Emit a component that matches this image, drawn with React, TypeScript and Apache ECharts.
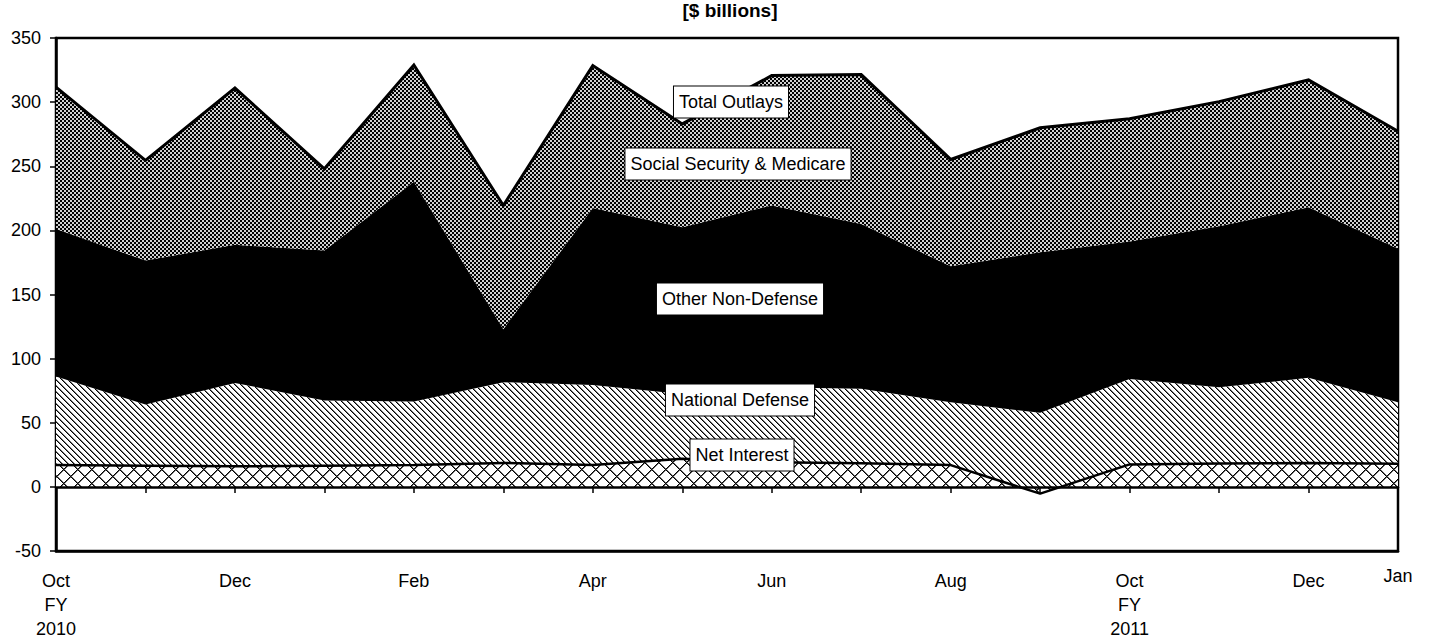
import React, { useEffect, useRef } from "react";
import * as echarts from "echarts";

// Months from Oct FY2010 to Jan FY2011
const categories = ["Oct", "Nov", "Dec", "Jan", "Feb", "Mar", "Apr", "May", "Jun", "Jul", "Aug", "Sep", "Oct", "Nov", "Dec", "Jan"];
const xTickLabels = ["Oct\nFY\n2010", "", "Dec", "", "Feb", "", "Apr", "", "Jun", "", "Aug", "", "Oct\nFY\n2011", "", "Dec", "Jan"];

// $ billions (component values, stacked)
const netInterest = [17, 16.5, 16, 16.5, 17, 18.7, 17, 22, 19.2, 18.5, 17, -5.3, 17.5, 18.2, 18.7, 18];
const nationalDefense = [69, 47.7, 65, 50.9, 49.6, 62.9, 62.5, 50.5, 58.5, 58.1, 49, 63, 66.7, 59.5, 66.3, 48];
const otherNonDefense = [115, 112.3, 107.7, 116.9, 171.4, 41.4, 138, 130, 141.7, 128.4, 106, 125.3, 107.1, 125.5, 133, 119.6];
const socialSecurityMedicare = [110.7, 78.1, 122.3, 63.7, 91, 96.4, 111, 80.5, 101.3, 116.5, 83.3, 97, 95.7, 97.2, 99.3, 91.7];

const yTicks = { min: -50, max: 350, interval: 50 };

const FONT = '"Liberation Sans", Arial, sans-serif';

function makePattern(w: number, h: number, bg: string, fn: (x: number, y: number) => string | null) {
  const c = document.createElement("canvas");
  c.width = w;
  c.height = h;
  const ctx = c.getContext("2d")!;
  ctx.fillStyle = bg;
  ctx.fillRect(0, 0, w, h);
  for (let y = 0; y < h; y++) {
    for (let x = 0; x < w; x++) {
      const col = fn(x, y);
      if (col) {
        ctx.fillStyle = col;
        ctx.fillRect(x, y, 1, 1);
      }
    }
  }
  return { image: c.toDataURL(), repeat: "repeat", imageWidth: w, imageHeight: h } as any;
}

export default function App() {
  const ref = useRef<HTMLDivElement>(null);

  useEffect(() => {
    if (!ref.current) return;
    const chart = echarts.init(ref.current, undefined, { renderer: "svg", width: 1437, height: 642 });

    const crossPattern = makePattern(14, 14, "#ffffff", (x, y) => {
      const d1 = (x + y) % 14;
      const d2 = (((x - y) % 14) + 14) % 14;
      if (d1 === 0 || d2 === 0) return "#000000";
      if (d1 === 1 || d2 === 1) return "#666666";
      return null;
    });
    const diagPattern = makePattern(6, 6, "#ffffff", (x, y) => {
      const d = (((x - y) % 6) + 6) % 6;
      if (d === 0) return "#000000";
      if (d === 1) return "#777777";
      return null;
    });
    const checkerPattern = makePattern(4, 4, "#d0d0d0", (x, y) => {
      return ((x >> 1) + (y >> 1)) % 2 === 0 ? "#000000" : null;
    });

    const boxStyle = (text: string) => ({
      text,
      fill: "#000",
      font: `18px ${FONT}`,
      backgroundColor: "#fff",
      borderColor: "#000",
      borderWidth: 1,
      padding: [7, 5, 6, 5],
      align: "center",
      verticalAlign: "middle",
    });

    const labels = [
      { text: "Total Outlays", x: 731, y: 102 },
      { text: "Social Security & Medicare", x: 738, y: 164 },
      { text: "Other Non-Defense", x: 740, y: 299 },
      { text: "National Defense", x: 740, y: 400 },
      { text: "Net Interest", x: 742, y: 455 },
    ];

    const option: any = {
      animation: false,
      backgroundColor: "#fff",
      grid: {
        left: 56,
        top: 38,
        width: 1342,
        height: 513,
        show: true,
        borderColor: "#000",
        borderWidth: 2.5,
        backgroundColor: "transparent",
        containLabel: false,
      },
      xAxis: [
        {
          type: "category",
          data: xTickLabels.map((v, i) =>
            i === xTickLabels.length - 1 ? { value: v, textStyle: { lineHeight: 14 } } : v
          ),
          boundaryGap: false,
          position: "bottom",
          axisLine: { onZero: false, lineStyle: { color: "#000", width: 2.5 } },
          axisTick: { show: false },
          axisLabel: {
            interval: 0,
            color: "#000",
            fontFamily: FONT,
            fontSize: 18,
            lineHeight: 24,
            margin: 18,
          },
          splitLine: { show: false },
        },
        {
          type: "category",
          data: categories,
          boundaryGap: false,
          position: "bottom",
          axisLine: { onZero: true, onZeroAxisIndex: 0, lineStyle: { color: "#000", width: 2.5 } },
          axisTick: { show: true, inside: false, length: 6, interval: 0, lineStyle: { color: "#000", width: 1.5 } },
          axisLabel: { show: false },
          splitLine: { show: false },
          z: 10,
        },
      ],
      yAxis: {
        type: "value",
        min: yTicks.min,
        max: yTicks.max,
        interval: yTicks.interval,
        axisLine: { show: true, lineStyle: { color: "#000", width: 2.5 } },
        axisTick: { show: true, inside: false, length: 6, lineStyle: { color: "#000", width: 1.5 } },
        axisLabel: { color: "#000", fontFamily: FONT, fontSize: 18, margin: 15 },
        splitLine: { show: false },
      },
      series: [
        {
          name: "Net Interest",
          type: "line",
          stack: "outlays",
          stackStrategy: "all",
          data: netInterest,
          symbol: "none",
          z: 5,
          lineStyle: { color: "#000", width: 2.5 },
          areaStyle: { color: crossPattern, opacity: 1 },
        },
        {
          name: "National Defense",
          type: "line",
          stack: "outlays",
          stackStrategy: "all",
          data: nationalDefense,
          symbol: "none",
          z: 2,
          lineStyle: { opacity: 0, width: 0 },
          areaStyle: { color: diagPattern, opacity: 1 },
        },
        {
          name: "Other Non-Defense",
          type: "line",
          stack: "outlays",
          stackStrategy: "all",
          data: otherNonDefense,
          symbol: "none",
          z: 2,
          lineStyle: { opacity: 0, width: 0 },
          areaStyle: { color: "#000", opacity: 1 },
        },
        {
          name: "Social Security & Medicare",
          type: "line",
          stack: "outlays",
          stackStrategy: "all",
          data: socialSecurityMedicare,
          symbol: "none",
          z: 5,
          lineStyle: { color: "#000", width: 3, join: "miter" },
          areaStyle: { color: checkerPattern, opacity: 1 },
        },
      ],
      graphic: [
        {
          type: "text",
          x: 730,
          y: 1,
          z: 100,
          style: {
            text: "[$ billions]",
            fill: "#000",
            font: `bold 19px ${FONT}`,
            align: "center",
            verticalAlign: "top",
          },
        },
        ...labels.map((l) => ({
          type: "text",
          x: l.x,
          y: l.y,
          z: 100,
          style: boxStyle(l.text),
        })),
      ],
    };

    chart.setOption(option);
    return () => chart.dispose();
  }, []);

  return (
    <div
      ref={ref}
      style={{ position: "absolute", left: 0, top: 0, width: 1437, height: 642, background: "#fff", overflow: "hidden" }}
    />
  );
}
